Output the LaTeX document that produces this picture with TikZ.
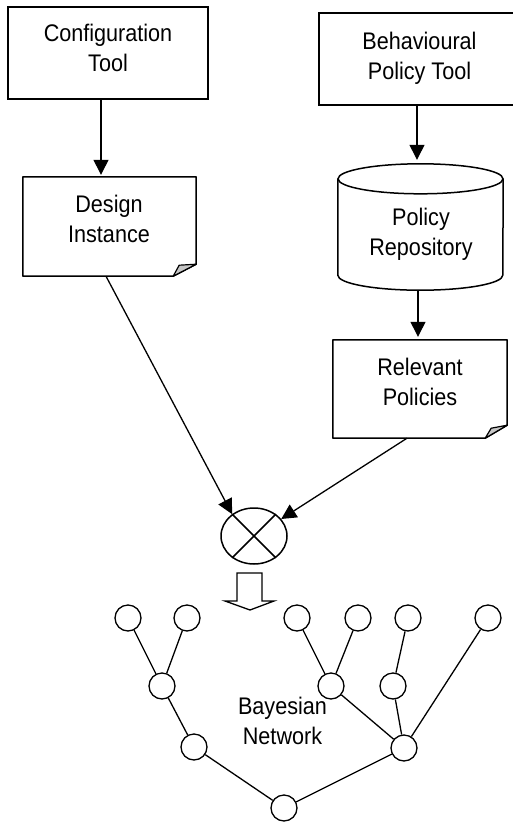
\documentclass[tikz,border=0pt]{standalone}
\usepackage{fontspec}
\setmainfont[FakeStretch=0.9]{Liberation Sans}
\usetikzlibrary{arrows.meta,shapes.geometric}
\begin{document}
\begin{tikzpicture}[x=1pt,y=-1pt,
  txt/.style={font=\fontsize{24}{30}\selectfont, align=center, inner sep=0pt},
  box/.style={draw, line width=1.5pt, rectangle, inner sep=0pt},
  plain/.style={rectangle, inner sep=0pt},
  arr/.style={-{Triangle[length=15pt,width=15pt]}, line width=1.3pt},
  edge/.style={line width=1.3pt},
  bn/.style={circle, draw, line width=1.3pt, minimum size=26pt, inner sep=0pt},
  fold/.style={fill=black!22, line width=1.2pt, line join=round}]
\useasboundingbox (0,0) rectangle (513,823);

% top boxes
\node[box, minimum width=200pt, minimum height=92pt] (cfg) at (108,53) {};
\node[txt] (cfgt) at (108,50.6) {\strut Configuration\\\strut Tool};
\node[box, minimum width=198pt, minimum height=92pt] (bpt) at (418,59) {};
\node[txt] (bptt) at (419.5,58) {\strut Behavioural\\\strut Policy Tool};

% design instance (document shape)
\node[plain, minimum width=173pt, minimum height=99pt] (di) at (109.5,226.5) {};
\node[txt] (dit) at (109,221.6) {\strut Design\\\strut Instance};
\draw[line width=1.5pt, line join=round] (di.north west) -- (di.north east) -- ([yshift=12pt]di.south east)
  -- ([xshift=-23pt]di.south east) -- (di.south west) -- cycle;
\draw[fold] ([xshift=-23pt]di.south east) -- ([xshift=-17pt,yshift=11pt]di.south east) -- ([yshift=12pt]di.south east)
  -- cycle;

% cylinder
\node[plain, minimum width=165pt, minimum height=126pt] (cyl) at (420.5,227) {};
\node[txt] (cylt) at (421,234.6) {\strut Policy\\\strut Repository};
\draw[line width=1.5pt] ([yshift=-15pt]cyl.north west) -- ([yshift=15pt]cyl.south west)
  arc[start angle=180, end angle=360, x radius=82.5pt, y radius=15pt] -- ([yshift=-15pt]cyl.north east);
\draw[line width=1.5pt] ([yshift=-15pt]cyl.north) ellipse[x radius=82.5pt, y radius=15pt];

% relevant policies (document shape)
\node[plain, minimum width=174pt, minimum height=98pt] (rp) at (420,389) {};
\node[txt] (rpt) at (420,384.6) {\strut Relevant\\\strut Policies};
\draw[line width=1.5pt, line join=round] (rp.north west) -- (rp.north east) -- ([yshift=13pt]rp.south east)
  -- ([xshift=-22pt]rp.south east) -- (rp.south west) -- cycle;
\draw[fold] ([xshift=-22pt]rp.south east) -- ([xshift=-16pt,yshift=10pt]rp.south east) -- ([yshift=13pt]rp.south east)
  -- cycle;

% combination node
\node[ellipse, draw, line width=1.5pt, minimum width=66pt, minimum height=56pt, inner sep=0pt] (ox) at (254,536) {};
\draw[line width=1.5pt] (ox.45) -- (ox.225) (ox.135) -- (ox.315);

% arrows
\draw[arr, shorten >=2pt] ([xshift=-7pt]cfg.south) -- ([xshift=-8.5pt]di.north);
\draw[arr, shorten >=4pt] ([xshift=-1pt]bpt.south) -- ([xshift=-3.5pt]cyl.north);
\draw[arr, shorten >=3pt] ([xshift=-2.5pt]cyl.south) -- ([xshift=-2pt]rp.north);
\draw[arr] ([xshift=-3.5pt]di.south) -- (ox.135);
\draw[arr] ([xshift=-13pt]rp.south) -- (ox.32);

% hollow arrow
\draw[line width=1.3pt, line join=miter] (237,573) -- (237,601) -- (225,601) -- (250,610) -- (274,601) -- (262,601) -- (262,573) -- cycle;

% Bayesian network
\node[bn] (l1) at (128,618) {};
\node[bn] (l2) at (187,618) {};
\node[bn] (l3) at (297,618) {};
\node[bn] (l4) at (358,618) {};
\node[bn] (l5) at (408,618) {};
\node[bn] (l6) at (488,618) {};
\node[bn] (m1) at (162,686) {};
\node[bn] (m2) at (331,686) {};
\node[bn] (m3) at (393,686) {};
\node[bn] (b1) at (194,747) {};
\node[bn] (b2) at (404,748) {};
\node[bn] (rt) at (284,808) {};
\node[txt] (bnlabel) at (282.5,723) {\strut Bayesian\\\strut Network};

\draw[edge] (l1) -- (m1) (l2) -- (m1) (m1) -- (b1) (b1) -- (rt)
  (l3) -- (m2) (l4) -- (m2) (m2) -- (b2) (l5) -- (m3) (m3) -- (b2) (l6) -- (b2) (b2) -- (rt);
\end{tikzpicture}
\end{document}
